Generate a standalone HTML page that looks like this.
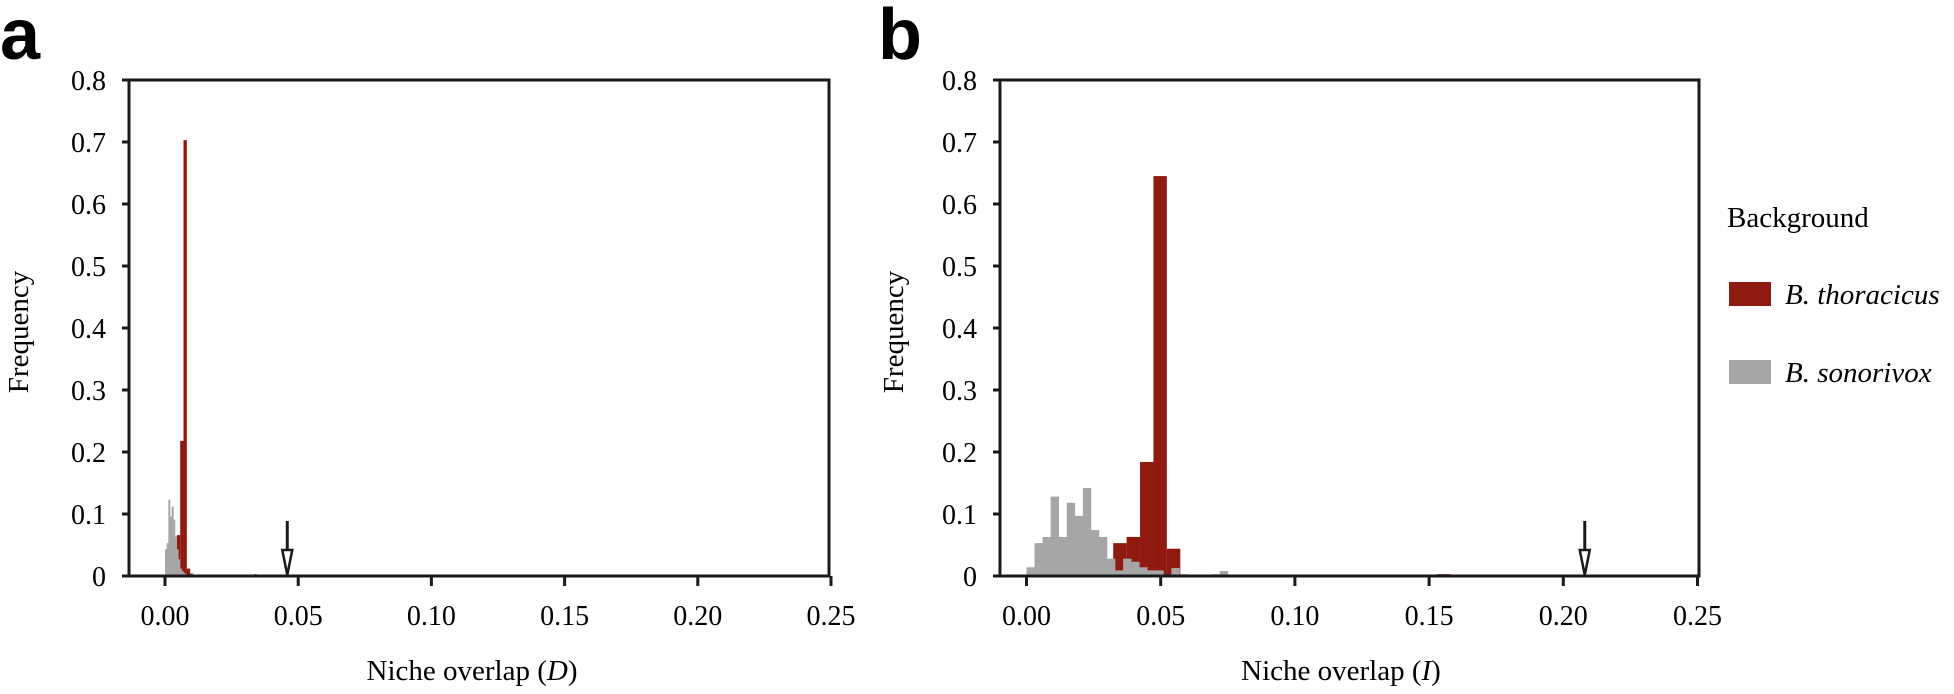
<!DOCTYPE html>
<html><head><meta charset="utf-8"><style>
html,body{margin:0;padding:0;background:#fff}
svg text{font-family:"Liberation Serif",serif}
</style></head><body>
<svg id="chart" width="1954" height="689" viewBox="0 0 1954 689" xmlns="http://www.w3.org/2000/svg">
<text x="0" y="59" style="font-family:'Liberation Sans',sans-serif;font-weight:bold;font-size:72px">a</text>
<text x="878" y="59" style="font-family:'Liberation Sans',sans-serif;font-weight:bold;font-size:72px">b</text>
<g id="pa"></g>
<g id="pb"></g>
<g>
<text x="1727" y="227" font-size="29">Background</text>
<rect x="1729" y="282" width="42" height="24" fill="#8f1a10"/>
<text x="1785" y="304" font-size="29" font-style="italic">B. thoracicus</text>
<rect x="1729" y="360" width="42" height="24" fill="#a6a6a6"/>
<text x="1785" y="382" font-size="29" font-style="italic">B. sonorivox</text>
</g>
</svg>
<script>
// Data arrays
const yTicks = [0, 0.1, 0.2, 0.3, 0.4, 0.5, 0.6, 0.7, 0.8];
const yTickLabels = ["0", "0.1", "0.2", "0.3", "0.4", "0.5", "0.6", "0.7", "0.8"];
const xTicks = [0, 0.05, 0.10, 0.15, 0.20, 0.25];
const xTickLabels = ["0.00", "0.05", "0.10", "0.15", "0.20", "0.25"];

// Panel a (D)
const aRedStart = 0.0007, aRedWidth = 0.00125;
const aRedValues = [0, 0, 0, 0.066, 0.218, 0.703, 0.012, 0.004];
const aGrayStart = 0, aGrayWidth = 0.000625;
const aGrayValues = [0.043, 0.053, 0.123, 0.096, 0.112, 0.091, 0.064, 0.043, 0.027, 0.012, 0.008, 0.005, 0.003, 0, 0, 0, 0.005];
const aExtraRedX = [0.0335], aExtraRedV = [0.003];
const aObserved = 0.0459;

// Panel b (I)
const bRedStart = 0.0323, bRedWidth = 0.005;
const bRedValues = [0.053, 0.063, 0.184, 0.645, 0.044];
const bGrayStart = 0, bGrayWidth = 0.003;
const bGrayValues = [0.014, 0.053, 0.063, 0.128, 0.063, 0.118, 0.097, 0.142, 0.074, 0.063, 0.028, 0.009, 0.028, 0.023, 0.014, 0.009, 0.009, 0, 0.013, 0.003, 0, 0, 0, 0.003, 0.008];
const bExtraRedX = [0.153], bExtraRedV = [0.003];
const bObserved = 0.208;

const NS = "http://www.w3.org/2000/svg";
function mk(parent, tag, attrs){const e=document.createElementNS(NS,tag);for(const k in attrs)e.setAttribute(k,attrs[k]);parent.appendChild(e);return e;}

function drawPanel(g, cfg){
  const x = v => cfg.x0 + (v - 0) * (cfg.x1 - cfg.x0) / 0.25;
  const y = v => cfg.base - v * 620;
  cfg.red.forEach((v,i)=>{ if(!v) return;
    const r = mk(g,'rect',{x:x(cfg.redStart+i*cfg.redW),y:y(v),width:x(cfg.redStart+(i+1)*cfg.redW)-x(cfg.redStart+i*cfg.redW),height:y(0)-y(v),fill:'#8f1a10'});
    
    
  });
  cfg.exX.forEach((xv,i)=>{
    const r = mk(g,'rect',{x:x(xv),y:y(cfg.exV[i]),width:x(xv+0.005)-x(xv)-(cfg.small?11:0),height:y(0)-y(cfg.exV[i]),fill:'#8f1a10'});
    
    
  });
  cfg.gray.forEach((v,i)=>{ if(!v) return;
    const r = mk(g,'rect',{x:x(cfg.grayStart+i*cfg.grayW),y:y(v),width:x(cfg.grayStart+(i+1)*cfg.grayW)-x(cfg.grayStart+i*cfg.grayW)+0.3,height:y(0)-y(v),fill:'#a6a6a6'});
    
    
  });
  const f = mk(g,'rect',{x:cfg.fl,y:80,width:cfg.fr-cfg.fl,height:cfg.base-80,fill:'none',stroke:'#1a1a1a','stroke-width':3});
  
  
  yTicks.forEach((v,i)=>{
    const t = mk(g,'line',{x1:cfg.fl-7,x2:cfg.fl,y1:y(v),y2:y(v),stroke:'#1a1a1a','stroke-width':3});
    
    
    const l = mk(g,'text',{x:cfg.fl-23,y:y(v)+10,'text-anchor':'end','font-size':28});
    l.textContent = yTickLabels[i];
    
    
  });
  xTicks.forEach((v,i)=>{
    const t = mk(g,'line',{x1:x(v),x2:x(v),y1:cfg.base,y2:cfg.base+10,stroke:'#1a1a1a','stroke-width':3});
    
    
    const l = mk(g,'text',{x:x(v),y:625,'text-anchor':'middle','font-size':28});
    l.textContent = xTickLabels[i];
    
    
  });
  const ax = x(cfg.obs);
  const s = mk(g,'line',{x1:ax,x2:ax,y1:521,y2:552,stroke:'#1a1a1a','stroke-width':3});
  
  
  const p = mk(g,'polygon',{points:`${ax-5},550 ${ax+5},550 ${ax},575`,fill:'#fff',stroke:'#1a1a1a','stroke-width':2.5});
  
  
  const xt = mk(g,'text',{x:cfg.titleX,y:680,'text-anchor':'middle','font-size':29});
  xt.innerHTML = 'Niche overlap (<tspan font-style="italic">'+cfg.letter+'</tspan>)';
  
  
  const yt = mk(g,'text',{x:0,y:0,'text-anchor':'middle','font-size':29,transform:`translate(${cfg.ytX},332) rotate(-90)`});
  yt.textContent = 'Frequency';
  
  
}

drawPanel(document.getElementById('pa'),{x0:165,x1:831,base:576,fl:129,fr:829,red:aRedValues,redStart:aRedStart,redW:aRedWidth,gray:aGrayValues,grayStart:aGrayStart,grayW:aGrayWidth,exX:aExtraRedX,exV:aExtraRedV,small:true,obs:aObserved,titleX:472,ytX:28,letter:'D'});
drawPanel(document.getElementById('pb'),{x0:1026.5,x1:1697.5,base:576,fl:1000,fr:1699,red:bRedValues,redStart:bRedStart,redW:bRedWidth,gray:bGrayValues,grayStart:bGrayStart,grayW:bGrayWidth,exX:bExtraRedX,exV:bExtraRedV,small:false,obs:bObserved,titleX:1341,ytX:903,letter:'I'});
</script>
</body></html>
